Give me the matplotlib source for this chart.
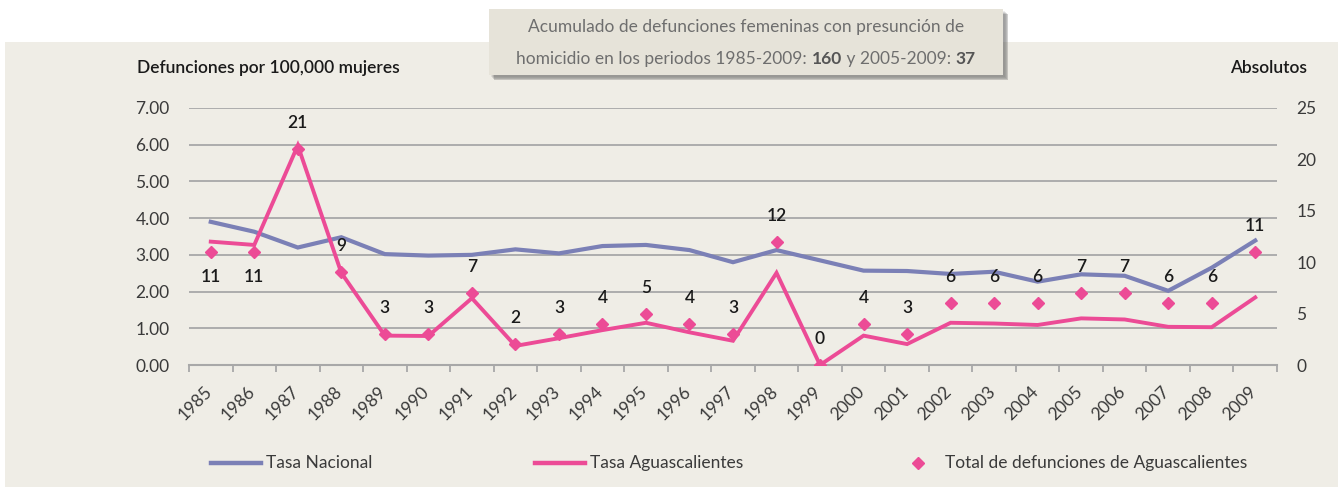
import matplotlib
matplotlib.use('Agg')
import matplotlib.pyplot as plt
from matplotlib.patches import Rectangle
from matplotlib.lines import Line2D
import matplotlib.transforms as mtransforms
import numpy as np

# ---------------- data ----------------
years = [str(y) for y in range(1985, 2010)]
tasa_nacional = [3.90, 3.63, 3.20, 3.48, 3.02, 2.98, 3.00, 3.15, 3.04, 3.24,
                 3.27, 3.13, 2.80, 3.13, 2.85, 2.57, 2.56, 2.48, 2.54, 2.27,
                 2.47, 2.43, 2.02, 2.65, 3.39]
tasa_ags = [3.36, 3.27, 5.98, 2.51, 0.80, 0.79, 1.82, 0.52, 0.73, 0.95,
            1.15, 0.89, 0.66, 2.51, 0.00, 0.80, 0.57, 1.15, 1.13, 1.09,
            1.27, 1.24, 1.04, 1.03, 1.84]
total_ags = [11, 11, 21, 9, 3, 3, 7, 2, 3, 4, 5, 4, 3, 12, 0, 4, 3, 6, 6, 6,
             7, 7, 6, 6, 11]
left_ticks = [0, 1, 2, 3, 4, 5, 6, 7]
right_ticks = [0, 5, 10, 15, 20, 25]
series_names = ["Tasa Nacional", "Tasa Aguascalientes",
                "Total de defunciones de Aguascalientes"]
left_title = "Defunciones por 100,000 mujeres"
right_title = "Absolutos"
box_line1 = "Acumulado de defunciones femeninas con presunción de"
box_line2 = [("homicidio en los periodos 1985-2009: ", "normal"), ("160", "bold"),
             (" y 2005-2009: ", "normal"), ("37", "bold")]

# ---------------- style ----------------
FONT = "Lato"
BG = "#EFEDE6"
NAC = "#7B80B6"
PINK = "#EC4B96"
GRID = "#A8A8A8"
TXT = "#3A3A3A"
W, H = 1338, 487

plt.rcParams['font.family'] = [FONT, 'DejaVu Sans']

def fx(x):
    return x / W

def fy(y):
    return 1 - y / H

fig = plt.figure(figsize=(W / 100, H / 100), dpi=100)
fig.patch.set_facecolor('white')
fig.add_artist(Rectangle((fx(5), 0), 1 - fx(5), fy(42), transform=fig.transFigure,
                         facecolor=BG, edgecolor='none', zorder=-10))

ax = fig.add_axes([fx(189), fy(365), (1277 - 189) / W, (365 - 108) / H])
ax.set_facecolor('none')
x = np.arange(len(years))

ax.plot(x, tasa_nacional, color=NAC, lw=3.0, zorder=3, solid_joinstyle='miter')
ax.plot(x, tasa_ags, color=PINK, lw=2.8, zorder=4, solid_joinstyle='miter')
ax.set_xlim(-0.5, len(years) - 0.5)
ax.set_ylim(0, 7)
ax.set_yticks(left_ticks)
ax.set_yticklabels([f"{v:.2f}" for v in left_ticks])
ax.yaxis.grid(True, color=GRID, lw=1.3, zorder=0)
ax.set_axisbelow(True)
for s in ['left', 'right', 'top']:
    ax.spines[s].set_visible(False)
ax.spines['bottom'].set_color(GRID)
ax.spines['bottom'].set_linewidth(1.5)
ax.tick_params(axis='y', length=0, pad=14, labelsize=12.5, labelcolor=TXT)

ax.set_xticks(x)
ax.set_xticks(np.arange(-0.5, len(years), 1), minor=True)
ax.tick_params(axis='x', which='major', length=0, pad=13, labelsize=12.5, labelcolor=TXT)
ax.tick_params(axis='x', which='minor', length=5, width=1.3, color=GRID, direction='out')
offset = mtransforms.ScaledTranslation(-7 / 100, 0, fig.dpi_scale_trans)
ax.set_xticklabels(years, rotation=45, ha='right', va='top', rotation_mode='anchor')
for lab in ax.get_xticklabels():
    lab.set_transform(lab.get_transform() + offset)

ax2 = ax.twinx()
ax2.set_ylim(0, 25)
ax2.set_yticks(right_ticks)
ax2.tick_params(axis='y', length=0, pad=14, labelsize=12.5, labelcolor=TXT)
for s in ax2.spines.values():
    s.set_visible(False)
ax2.plot(x, total_ags, ls='none', marker='D', ms=6.5, color=PINK, zorder=5)

for i, v in enumerate(total_ags):
    dy = -25 if i in (0, 1) else 26
    ax2.annotate(str(v), (i, v), xytext=(0, dy), textcoords='offset pixels',
                 ha='center', va='center', fontsize=12.5, fontweight='semibold',
                 color='#1A1A1A')

# axis titles
fig.text(fx(137), fy(68), left_title, ha='left', va='center', fontsize=12.5,
         fontweight='semibold', color='#1A1A1A')
fig.text(fx(1307), fy(68), right_title, ha='right', va='center', fontsize=12.5,
         fontweight='semibold', color='#1A1A1A')

# title box with shadow
for k, a in enumerate([0.10, 0.14, 0.20, 0.28]):
    d = 4 - k
    fig.add_artist(Rectangle((fx(489 + 6 - d), fy(75 + 6 - d)),
                             (1003 - 489) / W, (75 - 9) / H,
                             transform=fig.transFigure, facecolor='#555555',
                             alpha=a, edgecolor='none', zorder=5))
fig.add_artist(Rectangle((fx(489), fy(75)), (1003 - 489) / W, (75 - 9) / H,
                         transform=fig.transFigure, facecolor='#E6E3D9',
                         edgecolor='none', zorder=6))
BOXTXT = '#6E6E6E'
TSIZE = 12.5
fig.text(fx(746), fy(27), box_line1, ha='center', va='center', fontsize=TSIZE,
         color=BOXTXT, zorder=7)

renderer = fig.canvas.get_renderer()
def width_of(s, weight):
    t1 = fig.text(0, 0, s + "|", fontsize=TSIZE, fontweight=weight)
    t2 = fig.text(0, 0, "|", fontsize=TSIZE, fontweight=weight)
    w = t1.get_window_extent(renderer).width - t2.get_window_extent(renderer).width
    t1.remove(); t2.remove()
    return w

widths = [width_of(s, w) for s, w in box_line2]
xpos = 746 - sum(widths) / 2
for (s, w), wd in zip(box_line2, widths):
    fig.text(fx(xpos), fy(59), s, ha='left', va='center', fontsize=TSIZE,
             fontweight=w, color=BOXTXT if w == 'normal' else '#555555', zorder=7)
    xpos += wd

# legend
ly = fy(463)
fig.add_artist(Line2D([fx(211), fx(261)], [ly, ly], color=NAC, lw=3.2,
                      transform=fig.transFigure))
fig.text(fx(266), ly, series_names[0], ha='left', va='center', fontsize=12.5, color=TXT)
fig.add_artist(Line2D([fx(535), fx(585)], [ly, ly], color=PINK, lw=3.2,
                      transform=fig.transFigure))
fig.text(fx(590), ly, series_names[1], ha='left', va='center', fontsize=12.5, color=TXT)
fig.add_artist(Line2D([fx(918)], [ly], color=PINK, marker='D', ms=6.5, ls='none',
                      transform=fig.transFigure))
fig.text(fx(945), ly, series_names[2], ha='left', va='center', fontsize=12.5, color=TXT)

fig.savefig('out.png', dpi=100, facecolor=fig.get_facecolor())
